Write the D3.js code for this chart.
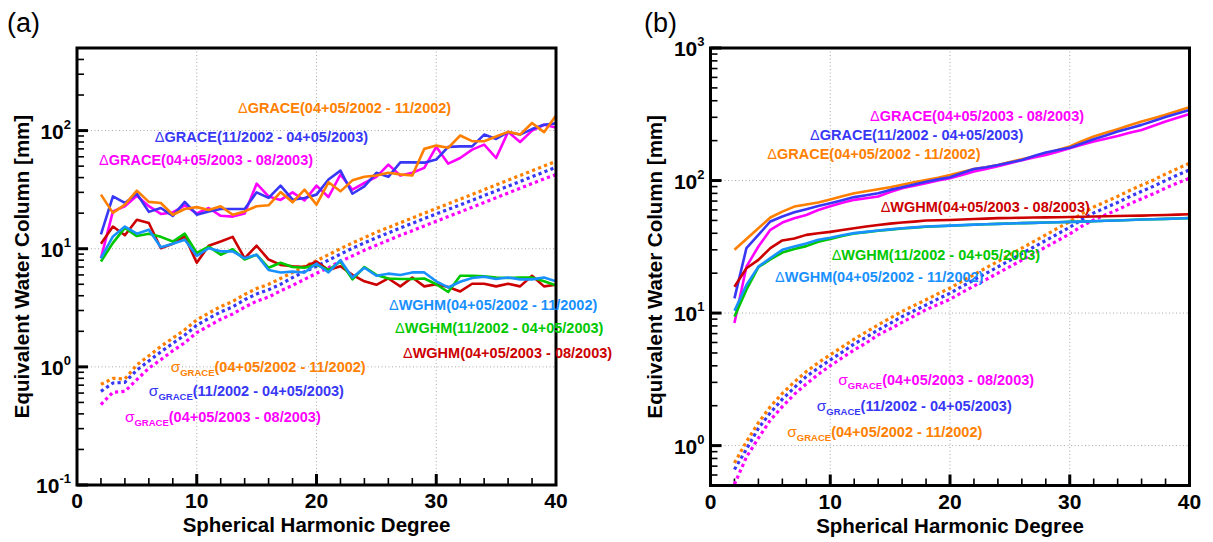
<!DOCTYPE html>
<html>
<head>
<meta charset="utf-8">
<script src="https://cdn.jsdelivr.net/npm/d3@7"></script>
<style>
  body { margin: 0; background: #fff; }
  svg { display: block; font-family: "Liberation Sans", Arial, sans-serif; }
</style>
</head>
<body>
<svg id="chart" width="1213" height="542"></svg>
<script>
// spherical harmonic degrees 2..40
const degrees = d3.range(2, 41);

// ---- panel (a) : degree variances ----
const aGraceO = [28.7, 20.1, 23.6, 31.0, 24.9, 24.4, 19.4, 21.7, 22.5,
  21.3, 22.9, 19.4, 20.7, 22.9, 23.3, 30.2, 24.7, 31.6, 23.6,
  36.5, 30.6, 37.9, 40.6, 41.6, 43.9, 42.6, 41.6, 70.0, 74.6,
  71.5, 90.8, 81.3, 81.3, 89.0, 97.5, 92.5, 116, 97.0, 134];
const aGraceB = [13.2, 27.7, 24.4, 29.2, 20.5, 22.1, 19.0, 24.9, 19.4,
  20.7, 21.7, 21.7, 21.7, 30.0, 26.9, 34.2, 26.0, 26.9, 28.7,
  38.5, 45.8, 29.2, 33.7, 43.9, 40.6, 53.8, 53.8, 53.5, 56.8,
  72.8, 73.5, 73.5, 92.5, 85.0, 96.9, 92.5, 103, 112, 115];
const aGraceM = [8.3, 20.7, 22.9, 28.1, 22.9, 19.7, 20.3, 23.3, 19.9,
  22.1, 19.0, 18.7, 19.9, 35.5, 27.7, 25.9, 30.0, 25.6, 34.2,
  27.4, 42.4, 31.6, 36.0, 40.6, 51.5, 41.6, 43.9, 48.3, 72.8,
  52.5, 58.6, 69.0, 76.0, 58.6, 97.5, 80.0, 100, 112, 106];
const aWghmR = [11.0, 15.4, 13.0, 17.6, 16.5, 10.1, 11.0, 12.7, 7.6,
  10.6, 11.5, 12.6, 8.3, 10.6, 8.1, 7.3, 7.1, 7.0, 7.8,
  6.6, 7.1, 6.0, 5.3, 4.95, 5.6, 4.8, 5.7, 4.8, 5.0,
  4.75, 4.35, 5.05, 5.05, 4.8, 5.05, 4.8, 5.9, 4.8, 4.95];
const aWghmG = [7.8, 11.2, 15.0, 12.8, 13.4, 12.6, 11.5, 13.4, 9.2,
  10.4, 8.9, 9.9, 8.1, 8.9, 6.9, 7.6, 7.0, 6.9, 7.3,
  6.6, 7.8, 5.5, 7.0, 6.0, 5.6, 5.55, 5.55, 5.6, 5.0,
  4.3, 5.9, 5.9, 5.85, 5.7, 5.65, 5.7, 5.7, 5.3, 4.9];
const aWghmC = [8.3, 12.7, 15.4, 13.4, 14.5, 10.3, 11.0, 11.9, 8.7,
  10.1, 9.5, 9.5, 8.3, 8.9, 6.6, 6.3, 6.4, 6.3, 7.5,
  6.3, 8.0, 5.7, 6.9, 5.9, 6.15, 6.0, 6.3, 6.3, 5.3,
  4.7, 5.25, 5.65, 5.8, 5.55, 5.7, 5.5, 5.5, 5.7, 5.3];
const aSigmaO = [0.71, 0.80, 0.79, 1.04, 1.24, 1.49, 1.75, 2.06, 2.5,
  2.85, 3.24, 3.58, 4.1, 4.6, 5.0, 5.6, 6.3, 7.1, 7.9,
  8.9, 10.0, 11.2, 12.4, 13.8, 15.1, 16.6, 18.2, 20.0, 21.9,
  24.0, 26.3, 28.8, 31.6, 34.7, 38.0, 41.7, 45.7, 50.1, 55];
const aSigmaB = [0.62, 0.73, 0.74, 0.94, 1.12, 1.34, 1.58, 1.86, 2.25,
  2.57, 2.92, 3.22, 3.7, 4.14, 4.5, 5.0, 5.7, 6.4, 7.1,
  8.0, 9.0, 10.1, 11.2, 12.4, 13.6, 15.0, 16.4, 18.0, 19.7,
  21.5, 23.5, 25.7, 28.2, 30.9, 33.8, 37.1, 40.7, 44.6, 49];
const aSigmaM = [0.48, 0.61, 0.62, 0.78, 0.975, 1.15, 1.37, 1.6, 1.95,
  2.22, 2.53, 2.8, 3.2, 3.6, 3.9, 4.4, 4.9, 5.5, 6.2,
  6.9, 7.8, 8.7, 9.7, 10.7, 11.8, 13.0, 14.2, 15.6, 17.1,
  18.7, 20.5, 22.4, 24.6, 27.0, 29.6, 32.5, 35.6, 39.0, 42.4];

// ---- panel (b) : cumulative ----
const bGraceO = [30, 36.2, 43.6, 52.6, 58.3, 63.6, 66, 68.2, 72,
  76, 80.3, 83, 86, 89, 92.8, 97, 101, 105, 110,
  116, 122, 126, 131, 138, 145, 152, 159, 170, 181,
  198, 215, 229, 244, 261, 279, 295, 313, 335, 358];
const bGraceB = [12.9, 30.9, 38.9, 49.1, 53.5, 57.7, 60.8, 64.3, 67.5,
  71, 75, 77.5, 80.3, 85, 89, 93.5, 98, 102, 106,
  114, 122, 126, 131, 137, 143, 153, 163, 170, 177,
  190, 205, 219, 234, 248, 263, 281, 301, 320, 341];
const bGraceM = [8.4, 22.4, 31.8, 42.5, 48.2, 52, 55, 60, 64,
  68, 71.5, 73.5, 75.8, 82, 87.5, 91.5, 95.5, 100, 104,
  110, 117, 122, 128, 135, 142, 149, 156, 165, 175,
  186, 197, 207, 217, 229, 241, 259, 279, 298, 318];
const bWghmR = [15.8, 21.8, 25.2, 30.9, 35.3, 36.5, 38.9, 40, 41,
  42.3, 43.6, 45, 46.2, 47.3, 48.2, 49, 49.9, 50.2, 50.4,
  50.8, 51.2, 51.6, 52, 52.2, 52.4, 52.6, 52.7, 52.9, 53.1,
  53.3, 53.6, 53.8, 54, 54.2, 54.4, 54.7, 55, 55.3, 55.7];
const bWghmG = [9.4, 15, 22.2, 25.4, 28.6, 30.4, 32, 34.5, 36.2,
  38.2, 39.8, 40.8, 41.8, 42.6, 43.4, 44.1, 44.8, 45.2, 45.6,
  46.0, 46.4, 46.8, 47.1, 47.4, 47.7, 47.9, 48.2, 48.5, 48.8,
  49, 49.3, 49.7, 50, 50.4, 50.8, 51.1, 51.4, 51.7, 52];
const bWghmC = [10.4, 16.3, 22.4, 26, 30, 31.8, 33.5, 35.7, 37,
  38.6, 40.1, 41, 42, 42.8, 43.6, 44.3, 45, 45.3, 45.7,
  46.1, 46.5, 46.8, 47.1, 47.4, 47.7, 47.9, 48.2, 48.5, 48.8,
  49, 49.3, 49.7, 50, 50.4, 50.8, 51.1, 51.4, 51.7, 52];
const bSigmaO = [0.74, 1.07, 1.49, 1.97, 2.48, 3.02, 3.62, 4.22, 4.84,
  5.56, 6.36, 7.19, 8.15, 9.16, 10.3, 11.4, 12.6, 14.0, 15.4,
  17.4, 19.5, 21.9, 24.5, 27.5, 30.9, 34.7, 38.9, 43.7, 49.0,
  56.2, 63.1, 69.2, 75.9, 84.1, 92.3, 101, 112, 123, 135];
const bSigmaB = [0.66, 0.94, 1.35, 1.77, 2.24, 2.74, 3.32, 3.85, 4.43,
  5.08, 5.85, 6.58, 7.46, 8.36, 9.4, 10.4, 11.5, 12.8, 14.1,
  15.9, 17.8, 19.9, 22.3, 25.0, 28.1, 31.5, 35.3, 39.6, 44.4,
  50.8, 57.0, 62.4, 68.3, 75.6, 82.9, 90.6, 100, 110, 120];
const bSigmaM = [0.51, 0.82, 1.14, 1.56, 1.97, 2.44, 2.92, 3.45, 4.0,
  4.6, 5.27, 5.95, 6.84, 7.6, 8.5, 9.5, 10.6, 11.6, 12.7,
  14.3, 16.0, 17.9, 20.0, 22.4, 25.1, 28.1, 31.5, 35.3, 39.5,
  45.2, 50.5, 55.2, 60.3, 66.6, 72.8, 79.5, 87.7, 96, 104];

// tick labels
const xTickLabels = [0, 10, 20, 30, 40];
const aDecades = [-1, 0, 1, 2];
const bDecades = [0, 1, 2, 3];

// periods used in legends
const P1 = "(04+05/2002 - 11/2002)";
const P2 = "(11/2002 - 04+05/2003)";
const P3 = "(04+05/2003 - 08/2003)";

const C = {
  orange: "#ff8000", blue: "#3737f5", magenta: "#ff00ff",
  red: "#cc0000", green: "#00c800", cyan: "#1890ff"
};

const svg = d3.select("#chart");

function drawPanel(cfg) {
  const g = svg.append("g");
  const x = d3.scaleLinear().domain([0, 40]).range([cfg.left, cfg.right]);
  const y = d3.scaleLog().domain(cfg.yDomain).range([cfg.bottom, cfg.top]);
  const [y0, y1] = cfg.yDomain;

  // grid
  const grid = g.append("g").attr("stroke", "#a8a8a8").attr("stroke-width", 1)
    .attr("stroke-dasharray", "1,2.5");
  [10, 20, 30].forEach(v => grid.append("line")
    .attr("x1", x(v)).attr("x2", x(v)).attr("y1", cfg.top).attr("y2", cfg.bottom));
  cfg.decades.forEach(d => {
    const v = Math.pow(10, d);
    if (v > y0 && v < y1) grid.append("line")
      .attr("x1", cfg.left).attr("x2", cfg.right).attr("y1", y(v)).attr("y2", y(v));
  });

  // ticks (inward)
  const ticks = g.append("g").attr("stroke", "#000");
  d3.range(2, 40, 2).forEach(v => {
    const major = v % 10 === 0;
    ticks.append("line").attr("x1", x(v)).attr("x2", x(v))
      .attr("y1", cfg.bottom).attr("y2", cfg.bottom - (major ? 11 : 7))
      .attr("stroke-width", major ? 3 : 1.6);
  });
  const dmin = Math.floor(Math.log10(y0)), dmax = Math.ceil(Math.log10(y1));
  for (let d = dmin; d <= dmax; d++) {
    for (let k = 1; k <= 9; k++) {
      const v = k * Math.pow(10, d);
      if (v < y0 * 0.999 || v > y1 * 1.001) continue;
      ticks.append("line").attr("x1", cfg.left).attr("x2", cfg.left + (k === 1 ? 11 : 7))
        .attr("y1", y(v)).attr("y2", y(v))
        .attr("stroke-width", k === 1 ? 3 : 1.6);
    }
  }

  // series
  const clipId = "clip" + cfg.id;
  svg.append("clipPath").attr("id", clipId).append("rect")
    .attr("x", cfg.left).attr("y", cfg.top)
    .attr("width", cfg.right - cfg.left).attr("height", cfg.bottom - cfg.top);
  const line = d3.line().x((d, i) => x(degrees[i])).y(d => y(d));
  const lines = g.append("g").attr("clip-path", `url(#${clipId})`);
  cfg.series.forEach(s => {
    lines.append("path").attr("d", line(s.values))
      .attr("fill", "none").attr("stroke", s.color)
      .attr("stroke-width", s.dotted ? 3.2 : 2.6)
      .attr("stroke-linejoin", "round")
      .attr("stroke-dasharray", s.dotted ? "3.2,3.2" : null);
  });

  // frame
  g.append("rect").attr("x", cfg.left).attr("y", cfg.top)
    .attr("width", cfg.right - cfg.left).attr("height", cfg.bottom - cfg.top)
    .attr("fill", "none").attr("stroke", "#000").attr("stroke-width", 3);

  // tick labels
  xTickLabels.forEach(v => g.append("text")
    .attr("x", x(v)).attr("y", cfg.bottom + 23)
    .attr("text-anchor", "middle").attr("font-size", 21).attr("font-weight", "bold")
    .text(v));
  cfg.decades.forEach(d => {
    const t = g.append("text").attr("x", cfg.left - 6).attr("y", y(Math.pow(10, d)) + 8)
      .attr("text-anchor", "end").attr("font-weight", "bold");
    t.append("tspan").attr("font-size", 21).text("10");
    t.append("tspan").attr("font-size", 13).attr("dy", -10).text(d < 0 ? "-" + (-d) : d);
  });

  // axis titles
  g.append("text").attr("x", (cfg.left + cfg.right) / 2).attr("y", cfg.bottom + 47)
    .attr("text-anchor", "middle").attr("font-size", 20.5).attr("font-weight", "bold")
    .text("Spherical Harmonic Degree");
  g.append("text")
    .attr("transform", `translate(${cfg.yTitleX},${(cfg.top + cfg.bottom) / 2}) rotate(-90)`)
    .attr("text-anchor", "middle").attr("font-size", 20.5).attr("font-weight", "bold")
    .text("Equivalent Water Column [mm]");

  // panel letter
  g.append("text").attr("x", cfg.letterX).attr("y", 32).attr("font-size", 27)
    .text(cfg.letter);

  // in-plot labels
  cfg.labels.forEach(l => {
    const t = g.append("text").attr("x", x(l.n)).attr("y", y(l.v)).attr("dy", "0.36em")
      .attr("fill", l.color).attr("font-weight", "bold").attr("font-size", 14.5);
    if (l.sigma) {
      t.append("tspan").attr("font-weight", "normal").attr("font-size", 15.5).text("σ");
      t.append("tspan").attr("font-size", 9.5).attr("dy", 4).text("GRACE");
      t.append("tspan").attr("dy", -4).text(l.period);
    } else {
      t.append("tspan").attr("font-weight", "normal").attr("font-size", 14.5).text("Δ");
      t.append("tspan").text(l.name + l.period);
    }
  });
}

drawPanel({
  id: "a", letter: "(a)", letterX: 7, yTitleX: 29,
  left: 77, right: 556, top: 48, bottom: 485,
  yDomain: [0.1, 500], decades: aDecades,
  series: [
    { values: aSigmaM, color: C.magenta, dotted: true },
    { values: aSigmaB, color: C.blue, dotted: true },
    { values: aSigmaO, color: C.orange, dotted: true },
    { values: aGraceM, color: C.magenta },
    { values: aGraceB, color: C.blue },
    { values: aGraceO, color: C.orange },
    { values: aWghmR, color: C.red },
    { values: aWghmG, color: C.green },
    { values: aWghmC, color: C.cyan }
  ],
  labels: [
    { name: "GRACE", period: P1, color: C.orange, n: 13.44, v: 157 },
    { name: "GRACE", period: P2, color: C.blue, n: 6.5, v: 89 },
    { name: "GRACE", period: P3, color: C.magenta, n: 1.84, v: 56.8 },
    { name: "WGHM", period: P1, color: C.cyan, n: 26.05, v: 3.35 },
    { name: "WGHM", period: P2, color: C.green, n: 26.56, v: 2.14 },
    { name: "WGHM", period: P3, color: C.red, n: 27.22, v: 1.32 },
    { sigma: true, period: P1, color: C.orange, n: 7.82, v: 1.0 },
    { sigma: true, period: P2, color: C.blue, n: 6.0, v: 0.63 },
    { sigma: true, period: P3, color: C.magenta, n: 4.0, v: 0.38 }
  ]
});

drawPanel({
  id: "b", letter: "(b)", letterX: 644, yTitleX: 662,
  left: 710.5, right: 1189.5, top: 48, bottom: 485.5,
  yDomain: [0.5, 1000], decades: bDecades,
  series: [
    { values: bSigmaM, color: C.magenta, dotted: true },
    { values: bSigmaB, color: C.blue, dotted: true },
    { values: bSigmaO, color: C.orange, dotted: true },
    { values: bGraceO, color: C.orange },
    { values: bGraceM, color: C.magenta },
    { values: bGraceB, color: C.blue },
    { values: bWghmR, color: C.red },
    { values: bWghmG, color: C.green },
    { values: bWghmC, color: C.cyan }
  ],
  labels: [
    { name: "GRACE", period: P3, color: C.magenta, n: 13.32, v: 307 },
    { name: "GRACE", period: P2, color: C.blue, n: 8.31, v: 220 },
    { name: "GRACE", period: P1, color: C.orange, n: 4.74, v: 158 },
    { name: "WGHM", period: P3, color: C.red, n: 14.21, v: 63 },
    { name: "WGHM", period: P2, color: C.green, n: 10.12, v: 27.5 },
    { name: "WGHM", period: P1, color: C.cyan, n: 5.39, v: 18.7 },
    { sigma: true, period: P3, color: C.magenta, n: 10.67, v: 3.13 },
    { sigma: true, period: P2, color: C.blue, n: 8.87, v: 1.99 },
    { sigma: true, period: P1, color: C.orange, n: 6.41, v: 1.28 }
  ]
});
</script>
</body>
</html>
